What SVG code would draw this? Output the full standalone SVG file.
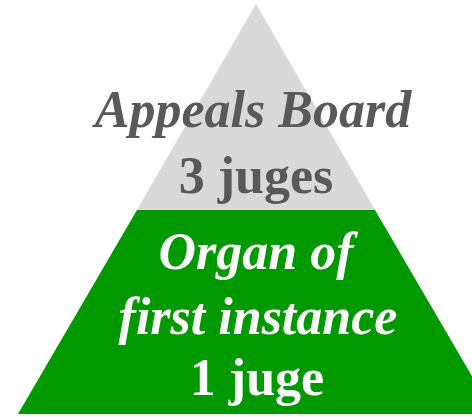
<svg xmlns="http://www.w3.org/2000/svg" width="472" height="417" viewBox="0 0 472 417">
<style>
.t{font-family:"Liberation Serif","Times New Roman",serif;font-weight:bold;font-size:52px;text-anchor:middle}
.g{fill:#595959}
.w{fill:#ffffff}
.i{font-style:italic}
</style>
<rect width="472" height="417" fill="#ffffff"/>
<g id="appeals-board">
<polygon points="256,4 375,210 137,210" fill="#d9d9d9"/>
<text class="t g i" x="253" y="127">Appeals Board</text>
<text class="t g" x="256" y="193">3 juges</text>
</g>
<g id="first-instance">
<polygon points="137,210 375,210 494,414 18,414" fill="#009900"/>
<text class="t w i" x="256" y="269">Organ of</text>
<text class="t w i" x="258" y="334">first instance</text>
<text class="t w" x="257" y="395">1 juge</text>
</g>
<g id="connectors"/>
</svg>
